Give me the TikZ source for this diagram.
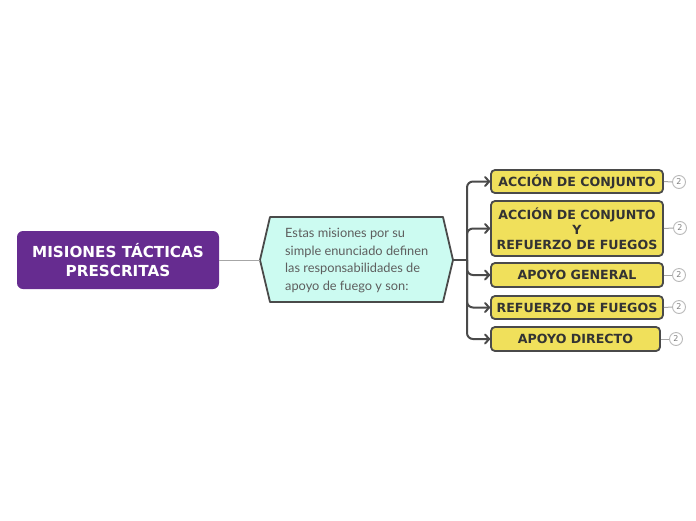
\documentclass[tikz,border=0pt]{standalone}
\usepackage{fontspec}
\setmainfont{DejaVu Sans}
\newfontfamily\hexfont{Lato}
\usetikzlibrary{arrows.meta,shapes.misc}
\definecolor{purp}{HTML}{662C90}
\definecolor{hexfill}{HTML}{CCFBF1}
\definecolor{ybox}{HTML}{F0E05B}
\definecolor{dline}{HTML}{4A4A4A}
\definecolor{htext}{HTML}{5E5E5E}
\definecolor{ytext}{HTML}{333333}
\tikzset{
  rootbox/.style={draw=none, fill=purp, rounded corners=6pt, text=white,
    font=\fontsize{15.2}{18.5}\selectfont\bfseries, align=center,
    minimum width=202pt, minimum height=58pt, inner sep=0pt},
  ybox/.style={draw=dline, line width=1.8pt, fill=ybox, rounded corners=4pt,
    text=ytext, font=\fontsize{12.6}{14.8}\selectfont\bfseries, align=center,
    minimum width=172pt, inner sep=0pt},
  badge/.style={circle, draw=gray!55, line width=0.9pt, fill=white, text=gray,
    font=\fontsize{8}{9}\selectfont, minimum size=13pt, inner sep=0pt},
  conn/.style={draw=dline, line width=2pt, rounded corners=6pt,
    -{Straight Barb[length=4pt,width=9pt,line join=round,line cap=round]}},
  thin/.style={draw=gray!70, line width=1pt},
}
\begin{document}
\begin{tikzpicture}[x=1pt,y=-1pt]
\useasboundingbox (0,0) rectangle (696,520);
\node[rootbox] (root) at (118,260) {MISIONES TÁCTICAS\\PRESCRITAS};
% hexagon
\coordinate (hl) at (260,260);
\coordinate (hr) at (453,260);
\filldraw[fill=hexfill, draw=dline, line width=1.8pt, line join=round]
  (hl) -- (270,217) -- (443,217) -- (hr) -- (443,302) -- (270,302) -- cycle;
\node[anchor=north west, text=htext, align=left, inner sep=0pt,
  font=\hexfont\fontsize{12.8}{17.5}\selectfont] (hex) at (285,228)
  {Estas misiones por su\\simple enunciado definen\\las responsabilidades de\\apoyo de fuego y son:};
\draw[thin] (root.east) -- (hl);
% boxes
\node[ybox, minimum height=23pt] (b1) at (577,181.5) {ACCIÓN DE CONJUNTO};
\node[ybox, minimum height=55pt] (b2) at (577,228.5) {ACCIÓN DE CONJUNTO\\Y\\REFUERZO DE FUEGOS};
\node[ybox, minimum height=24pt] (b3) at (577,275) {APOYO GENERAL};
\node[ybox, minimum height=23pt] (b4) at (577,307.5) {REFUERZO DE FUEGOS};
\node[ybox, minimum height=24pt, minimum width=169pt] (b5) at (575.5,339) {APOYO DIRECTO};
\coordinate (j) at (467,260);
\draw[draw=dline, line width=2pt] (hr) -- (j);
\foreach \b in {b1,b2,b3,b4,b5} {
  \draw[conn] (j) |- (\b.west);
}
% badges
\node[badge] (c1) at (679,182) {2};
\node[badge] (c2) at (680,228) {2};
\node[badge] (c3) at (679,275) {2};
\node[badge] (c4) at (679,307) {2};
\node[badge] (c5) at (676,339) {2};
\draw[thin] (b1.east) -- (c1.west);
\draw[thin] (b2.east) -- (c2.west);
\draw[thin] (b3.east) -- (c3.west);
\draw[thin] (b4.east) -- (c4.west);
\draw[thin] (b5.east) -- (c5.west);
\end{tikzpicture}
\end{document}
